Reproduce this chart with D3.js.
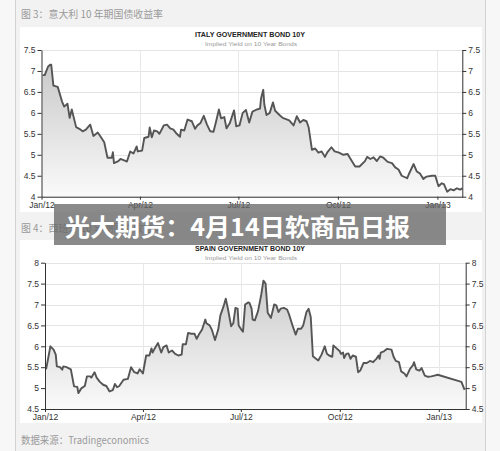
<!DOCTYPE html>
<html><head><meta charset="utf-8">
<script src="https://cdn.jsdelivr.net/npm/d3@7/dist/d3.min.js"></script>
<style>
html,body{margin:0;padding:0;background:#f7f7f7;}
svg{display:block;}
</style></head>
<body>
<svg id="c" width="500" height="451"></svg>
<script>
// ---------- DATA ----------
const xTickDates = ["2012-01-01","2012-04-01","2012-07-01","2012-10-01","2013-01-01"];
const xTickLabels = ["Jan/12","Apr/12","Jul/12","Oct/12","Jan/13"];

const italyTicks = [4,4.5,5,5.5,6,6.5,7,7.5];
const italyDates = ["2012-01-02","2012-01-04","2012-01-07","2012-01-09","2012-01-10","2012-01-12","2012-01-16","2012-01-20","2012-01-22","2012-01-25","2012-01-27","2012-01-29","2012-02-02","2012-02-05","2012-02-08","2012-02-11","2012-02-15","2012-02-18","2012-02-22","2012-02-25","2012-02-28","2012-03-02","2012-03-06","2012-03-07","2012-03-08","2012-03-12","2012-03-14","2012-03-18","2012-03-20","2012-03-23","2012-03-26","2012-03-29","2012-03-30","2012-04-03","2012-04-05","2012-04-09","2012-04-10","2012-04-12","2012-04-14","2012-04-17","2012-04-19","2012-04-23","2012-04-26","2012-04-29","2012-05-02","2012-05-05","2012-05-08","2012-05-09","2012-05-12","2012-05-15","2012-05-19","2012-05-22","2012-05-24","2012-05-27","2012-05-30","2012-06-02","2012-06-05","2012-06-08","2012-06-10","2012-06-13","2012-06-15","2012-06-18","2012-06-20","2012-06-23","2012-06-27","2012-06-29","2012-07-02","2012-07-05","2012-07-08","2012-07-11","2012-07-14","2012-07-18","2012-07-21","2012-07-22","2012-07-24","2012-07-25","2012-07-27","2012-07-30","2012-08-02","2012-08-04","2012-08-08","2012-08-11","2012-08-17","2012-08-21","2012-08-24","2012-08-27","2012-08-30","2012-09-02","2012-09-04","2012-09-07","2012-09-10","2012-09-13","2012-09-16","2012-09-19","2012-09-21","2012-09-25","2012-09-28","2012-10-02","2012-10-06","2012-10-10","2012-10-12","2012-10-17","2012-10-21","2012-10-26","2012-10-28","2012-10-31","2012-11-03","2012-11-06","2012-11-09","2012-11-12","2012-11-16","2012-11-20","2012-11-23","2012-11-26","2012-11-29","2012-12-04","2012-12-06","2012-12-10","2012-12-13","2012-12-16","2012-12-19","2012-12-22","2012-12-27","2012-12-30","2013-01-02","2013-01-05","2013-01-07","2013-01-10","2013-01-13","2013-01-16","2013-01-19","2013-01-22","2013-01-24"];
const italyYields = [6.9,6.9,7.1,7.15,7.15,6.65,6.62,6.27,6.15,6.22,5.88,6.08,5.66,5.62,5.56,5.6,5.72,5.45,5.53,5.42,5.3,4.93,4.93,5.06,4.8,4.85,4.9,4.86,4.84,5.08,5.03,5.2,5.08,5.1,5.4,5.43,5.65,5.42,5.58,5.56,5.5,5.7,5.72,5.63,5.6,5.5,5.43,5.6,5.58,5.84,5.8,5.62,5.7,5.76,5.93,5.72,5.56,5.55,5.75,6.08,5.87,5.9,5.63,5.75,6.06,5.68,5.7,6.0,6.07,5.77,6.03,6.08,6.1,6.35,6.55,6.2,5.95,6.0,6.25,6.05,5.95,5.88,5.82,5.7,5.92,5.77,5.83,5.8,5.65,5.12,5.15,5.05,5.08,4.95,5.05,5.18,5.08,5.05,5.0,5.02,4.93,4.72,4.72,4.85,4.95,4.9,4.94,4.85,4.96,4.93,4.83,4.8,4.7,4.65,4.5,4.44,4.56,4.78,4.6,4.55,4.42,4.48,4.5,4.5,4.25,4.32,4.3,4.12,4.18,4.15,4.2,4.17,4.2];

const spainTicks = [4.5,5,5.5,6,6.5,7,7.5,8];
const spainDates = ["2012-01-02","2012-01-04","2012-01-06","2012-01-09","2012-01-11","2012-01-12","2012-01-15","2012-01-17","2012-01-18","2012-01-21","2012-01-25","2012-01-28","2012-01-31","2012-02-01","2012-02-04","2012-02-07","2012-02-09","2012-02-12","2012-02-13","2012-02-16","2012-02-18","2012-02-21","2012-02-24","2012-02-27","2012-03-01","2012-03-04","2012-03-06","2012-03-08","2012-03-10","2012-03-14","2012-03-18","2012-03-21","2012-03-24","2012-03-27","2012-03-29","2012-04-01","2012-04-04","2012-04-07","2012-04-09","2012-04-10","2012-04-12","2012-04-15","2012-04-18","2012-04-20","2012-04-23","2012-04-25","2012-04-28","2012-05-01","2012-05-04","2012-05-07","2012-05-08","2012-05-11","2012-05-13","2012-05-16","2012-05-19","2012-05-21","2012-05-23","2012-05-26","2012-05-29","2012-05-30","2012-06-02","2012-06-04","2012-06-07","2012-06-10","2012-06-12","2012-06-15","2012-06-17","2012-06-19","2012-06-22","2012-06-24","2012-06-26","2012-06-28","2012-06-29","2012-07-02","2012-07-03","2012-07-05","2012-07-08","2012-07-09","2012-07-11","2012-07-12","2012-07-14","2012-07-17","2012-07-20","2012-07-22","2012-07-24","2012-07-26","2012-07-29","2012-08-01","2012-08-03","2012-08-05","2012-08-07","2012-08-10","2012-08-13","2012-08-15","2012-08-18","2012-08-21","2012-08-23","2012-08-26","2012-08-28","2012-08-31","2012-09-02","2012-09-04","2012-09-06","2012-09-08","2012-09-11","2012-09-14","2012-09-17","2012-09-19","2012-09-21","2012-09-24","2012-09-25","2012-09-28","2012-10-01","2012-10-02","2012-10-04","2012-10-05","2012-10-07","2012-10-09","2012-10-11","2012-10-13","2012-10-16","2012-10-18","2012-10-20","2012-10-23","2012-10-26","2012-10-29","2012-11-01","2012-11-02","2012-11-04","2012-11-06","2012-11-07","2012-11-08","2012-11-11","2012-11-14","2012-11-18","2012-11-20","2012-11-22","2012-11-25","2012-11-27","2012-11-30","2012-12-02","2012-12-05","2012-12-08","2012-12-09","2012-12-11","2012-12-14","2012-12-16","2012-12-19","2012-12-22","2012-12-25","2012-12-28","2012-12-31","2013-01-22","2013-01-25"];
const spainYields = [5.45,5.72,6.0,5.92,5.8,5.52,5.5,5.44,5.52,5.5,5.45,5.04,5.03,4.88,5.0,5.05,5.28,5.28,5.25,5.38,5.25,5.15,5.08,5.05,4.92,4.95,5.1,5.02,5.05,5.2,5.22,5.5,5.38,5.35,5.45,5.35,5.78,5.78,5.95,5.85,5.95,6.08,5.85,5.98,6.02,5.85,5.9,5.82,5.78,5.8,6.05,6.05,6.32,6.3,6.3,6.18,6.28,6.4,6.64,6.55,6.5,6.4,6.15,6.4,6.74,6.96,7.14,6.9,6.48,6.55,6.92,6.9,6.5,6.38,6.35,7.0,7.05,7.04,6.9,6.64,6.62,6.84,7.24,7.57,7.5,6.8,6.68,7.0,6.98,6.82,6.9,6.92,6.88,6.75,6.5,6.28,6.42,6.42,6.5,6.82,6.9,6.7,5.76,5.72,5.66,5.8,6.0,5.82,5.78,5.75,6.02,5.95,5.88,5.82,5.85,5.72,5.82,5.83,5.7,5.78,5.75,5.38,5.42,5.6,5.6,5.65,5.62,5.65,5.7,5.78,5.7,5.85,5.88,5.94,5.92,5.75,5.65,5.62,5.4,5.35,5.28,5.45,5.55,5.62,5.45,5.42,5.48,5.3,5.27,5.28,5.3,5.32,5.15,4.96];

// ---------- DRAW ----------
const svg = d3.select("#c");
const parse = d3.timeParse("%Y-%m-%d");
const tickFont = "'Liberation Sans', Arial, sans-serif";
const cjk = "'Noto Sans CJK SC', sans-serif";

// page background
svg.append("rect").attr("x",0).attr("y",0).attr("width",500).attr("height",451).attr("fill","#f7f7f7");
svg.append("rect").attr("x",15).attr("y",0).attr("width",471).attr("height",451).attr("fill","#f2f2f2");
svg.append("line").attr("x1",15.5).attr("x2",15.5).attr("y1",0).attr("y2",451).attr("stroke","#d2d2d2");
svg.append("line").attr("x1",485.5).attr("x2",485.5).attr("y1",0).attr("y2",451).attr("stroke","#d2d2d2");

// white panels
svg.append("rect").attr("x",20).attr("y",27).attr("width",462).attr("height",185).attr("fill","#ffffff");
svg.append("rect").attr("x",20).attr("y",240).attr("width",462).attr("height",183).attr("fill","#ffffff");

// captions
svg.append("text").attr("x",21).attr("y",13).attr("dominant-baseline","central")
  .attr("font-family",cjk).attr("font-size",10).attr("fill","#9a9a9a")
  .attr("textLength",142).attr("lengthAdjust","spacingAndGlyphs")
  .text("图 3：意大利 10 年期国债收益率");
svg.append("text").attr("x",21).attr("y",227).attr("dominant-baseline","central")
  .attr("font-family",cjk).attr("font-size",10).attr("fill","#9a9a9a")
  .attr("textLength",142).attr("lengthAdjust","spacingAndGlyphs")
  .text("图 4：西班牙 10 年期国债收益率");
svg.append("text").attr("x",21).attr("y",439).attr("dominant-baseline","central")
  .attr("font-family",cjk).attr("font-size",10).attr("fill","#9a9a9a")
  .attr("textLength",128).attr("lengthAdjust","spacingAndGlyphs")
  .text("数据来源：Tradingeconomics");

function drawChart(o){
  const g = svg.append("g");
  const data = o.dates.map((d,i)=>({date:parse(d), v:o.values[i]}));
  const x = d3.scaleTime().domain([parse("2012-01-01"), parse(o.end)]).range([o.left,o.right]);
  const y = d3.scaleLinear().domain([o.ticks[0], o.ticks[o.ticks.length-1]]).range([o.bottom,o.top]);

  // title
  g.append("text").attr("x",250).attr("y",o.titleY).attr("text-anchor","middle").attr("dominant-baseline","central")
    .attr("font-family",tickFont).attr("font-weight","bold").attr("font-size",8).attr("fill","#222")
    .attr("textLength",110).attr("lengthAdjust","spacingAndGlyphs").text(o.title);
  g.append("text").attr("x",251).attr("y",o.titleY+9.5).attr("text-anchor","middle").attr("dominant-baseline","central")
    .attr("font-family",tickFont).attr("font-size",6).attr("fill","#9a9a9a")
    .attr("textLength",92).attr("lengthAdjust","spacingAndGlyphs").text("Implied Yield on 10 Year Bonds");

  // grid
  g.append("g").selectAll("line").data(o.ticks).join("line")
    .attr("x1",o.left).attr("x2",o.right).attr("y1",d=>Math.round(y(d))+0.5).attr("y2",d=>Math.round(y(d))+0.5)
    .attr("stroke","#e4e4e4").attr("stroke-width",1);
  g.append("g").selectAll("line").data(xTickDates.slice(1)).join("line")
    .attr("x1",d=>Math.round(x(parse(d)))+0.5).attr("x2",d=>Math.round(x(parse(d)))+0.5)
    .attr("y1",o.top).attr("y2",o.bottom).attr("stroke","#e8e8e8").attr("stroke-width",1);

  // gradient
  const gid = "grad"+o.id;
  const grad = svg.append("defs").append("linearGradient").attr("id",gid)
    .attr("gradientUnits","userSpaceOnUse").attr("x1",0).attr("x2",0).attr("y1",o.top).attr("y2",o.bottom);
  grad.append("stop").attr("offset","0%").attr("stop-color","#c4c4c4");
  grad.append("stop").attr("offset","100%").attr("stop-color","#fafafa");

  g.append("path").datum(data).attr("fill","url(#"+gid+")")
    .attr("d", d3.area().x(d=>x(d.date)).y0(o.bottom).y1(d=>y(d.v)));
  g.append("path").datum(data).attr("fill","none").attr("stroke","#555").attr("stroke-width",1.9)
    .attr("stroke-linejoin","round")
    .attr("d", d3.line().x(d=>x(d.date)).y(d=>y(d.v)));

  const fmt = d => d3.format("")(d);
  const styleAxis = sel => {
    sel.selectAll("path,line").attr("stroke","#333");
    sel.selectAll("text").attr("font-family",tickFont).attr("font-size",8.5).attr("fill","#333");
  };
  g.append("g").attr("transform",`translate(${o.left},0)`)
    .call(d3.axisLeft(y).tickValues(o.ticks).tickFormat(fmt).tickSize(4).tickSizeOuter(0).tickPadding(2))
    .call(styleAxis);
  g.append("g").attr("transform",`translate(${o.right},0)`)
    .call(d3.axisRight(y).tickValues(o.ticks).tickFormat(fmt).tickSize(4).tickSizeOuter(0).tickPadding(2))
    .call(styleAxis);
  const xa = g.append("g").attr("class","xaxis").attr("transform",`translate(0,${o.bottom})`)
    .call(d3.axisBottom(x).tickValues(xTickDates.map(parse)).tickFormat((d,i)=>xTickLabels[i]).tickSize(3).tickSizeOuter(0).tickPadding(2))
    .call(styleAxis);
  return xa;
}

drawChart({id:"it", dates:italyDates, values:italyYields, ticks:italyTicks, end:"2013-01-24",
  left:41.5, right:462.3, top:50, bottom:196.7, titleY:34.5, title:"ITALY GOVERNMENT BOND 10Y"});
drawChart({id:"es", dates:spainDates, values:spainYields, ticks:spainTicks, end:"2013-01-26",
  left:45, right:465.7, top:262.7, bottom:409, titleY:248, title:"SPAIN GOVERNMENT BOND 10Y"});

// banner overlay (semi-transparent, so the labels beneath still show faintly)
svg.append("rect").attr("x",54).attr("y",204).attr("width",392).attr("height",41)
  .attr("fill","rgba(101,101,101,0.76)");
svg.append("text").attr("x",65).attr("y",225).attr("dominant-baseline","central")
  .attr("font-family",cjk).attr("font-weight","bold").attr("font-size",24).attr("fill","#ffffff")
  .attr("textLength",345).attr("lengthAdjust","spacingAndGlyphs")
  .text("光大期货：4月14日软商品日报");
</script>
</body></html>
